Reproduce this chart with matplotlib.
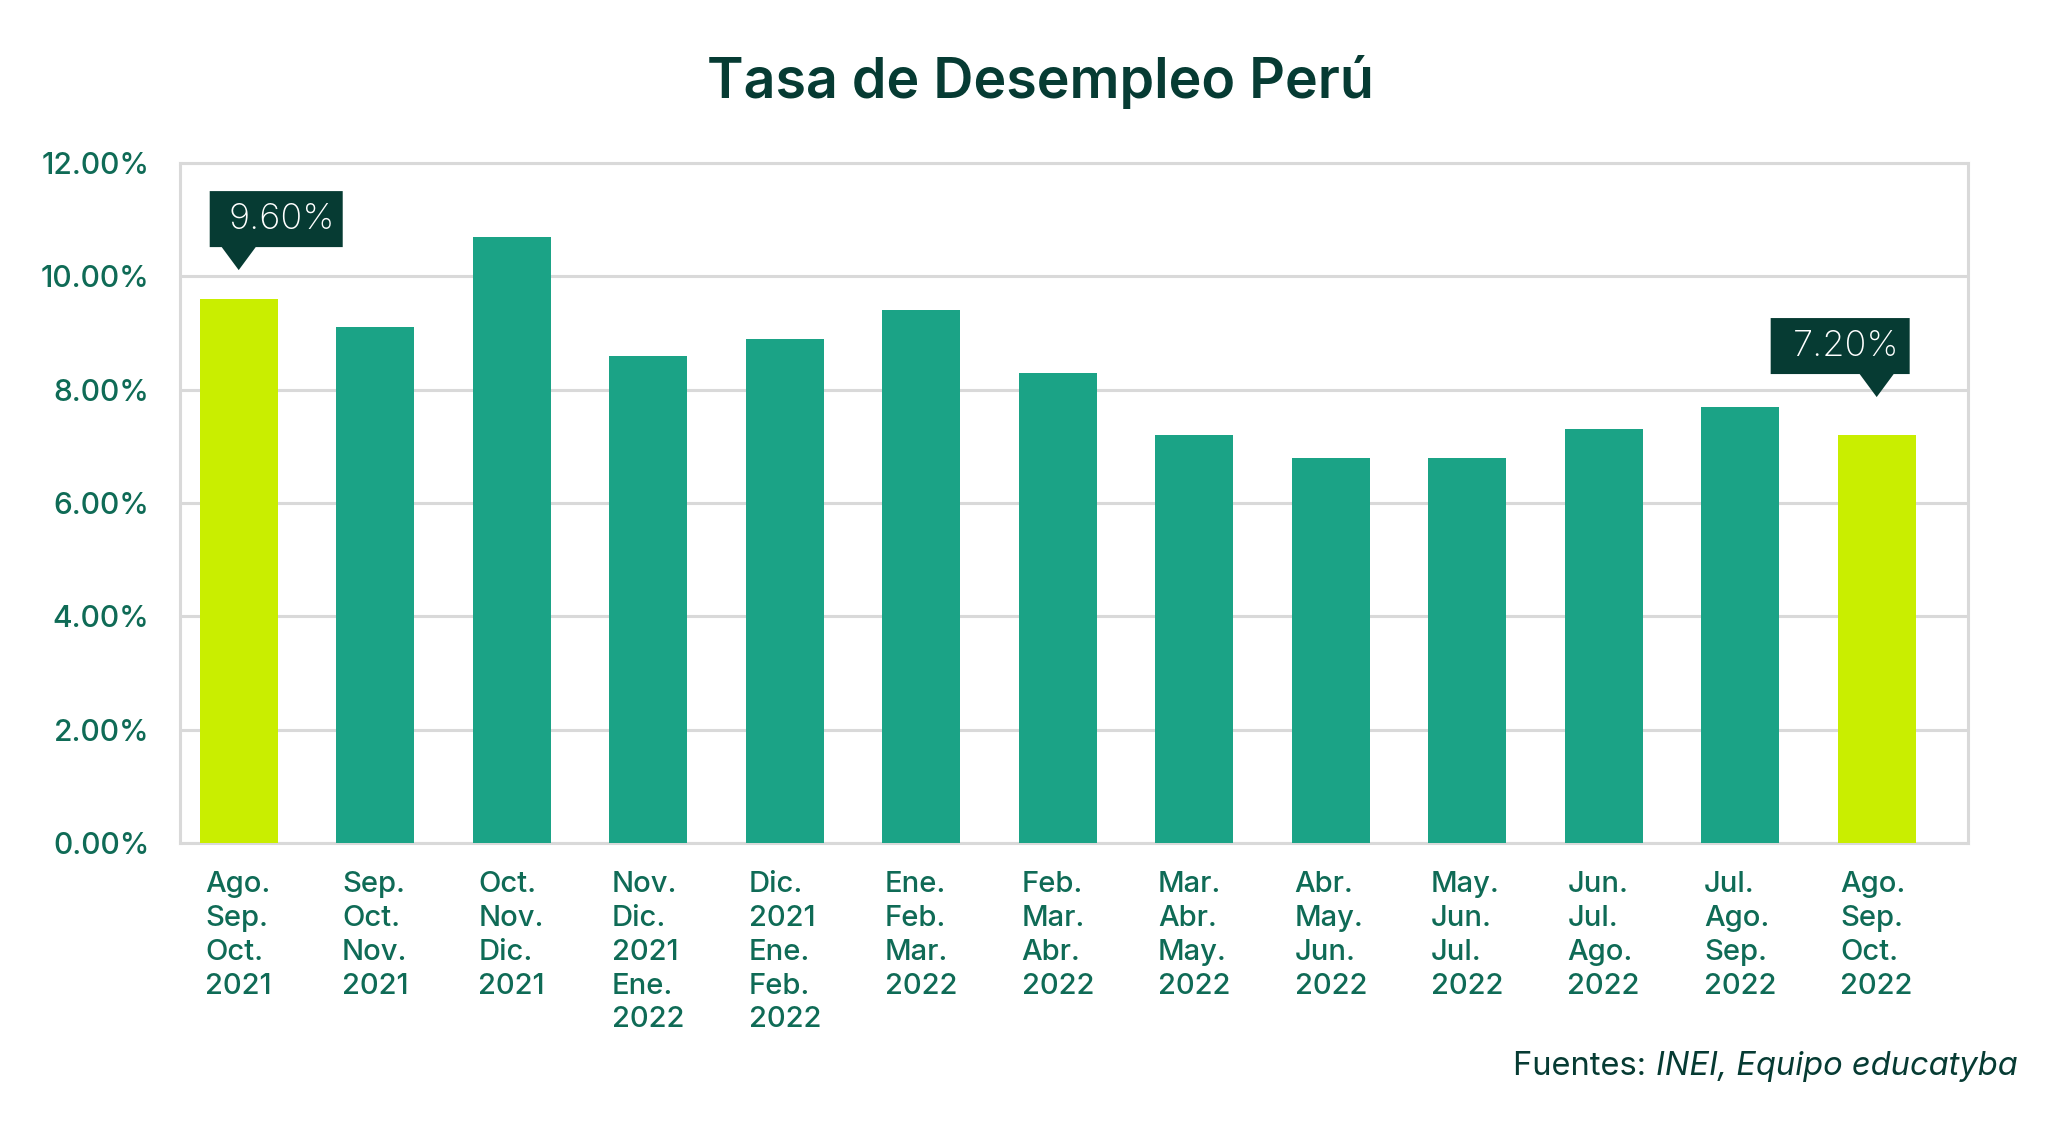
import numpy as np
import matplotlib
matplotlib.use('Agg')
import matplotlib.pyplot as plt
from matplotlib.patches import Polygon
from matplotlib.transforms import Affine2D, ScaledTranslation

plt.rcParams['font.family'] = ['Inter', 'DejaVu Sans']

# ======= Data
periods = ['Ago.\nSep.\nOct.\n2021', 'Sep.\nOct.\nNov.\n2021', 'Oct.\nNov.\nDic.\n2021',
           'Nov.\nDic.\n2021\nEne.\n2022', 'Dic.\n2021\nEne.\nFeb.\n2022',
           'Ene.\nFeb.\nMar.\n2022', 'Feb.\nMar.\nAbr.\n2022', 'Mar.\nAbr.\nMay.\n2022',
           'Abr.\nMay.\nJun.\n2022', 'May.\nJun.\nJul.\n2022', 'Jun.\nJul.\nAgo.\n2022',
           'Jul.\nAgo.\nSep.\n2022', 'Ago.\nSep.\nOct.\n2022']
rates = [9.6, 9.1, 10.7, 8.6, 8.9, 9.4, 8.3, 7.2, 6.8, 6.8, 7.3, 7.7, 7.2]
highlight = [0, 12]          # bars compared in the chart
yticks = [0, 2, 4, 6, 8, 10, 12]

TEAL = '#1BA386'
LIME = '#C9EE00'
DARK = '#063B33'
LABEL = '#0F6B56'
GRID = '#D9D9D9'

fig = plt.figure(figsize=(20.48, 11.25), dpi=100)
ax = fig.add_axes([0.0879, 0.2507, 0.961 - 0.0879, 0.855 - 0.2507])

x = np.arange(len(rates))
colors = [LIME if i in highlight else TEAL for i in x]
ax.bar(x, rates, width=0.57, color=colors, zorder=3)

ax.set_ylim(0, 12)
ax.set_xlim(-0.43, 12.67)
ax.set_yticks(yticks)
ax.set_yticklabels(['%.2f%%' % v for v in yticks], fontweight='medium')
ax.set_xticks(x)
ax.set_xticklabels(periods, ha='center', multialignment='left', linespacing=1.33,
                   fontweight='medium')

ax.grid(axis='y', color=GRID, linewidth=2.2, zorder=0)
for s in ax.spines.values():
    s.set_color(GRID)
    s.set_linewidth(2.2)

ax.tick_params(axis='y', length=0, pad=22, labelsize=21.5, labelcolor=LABEL)
ax.tick_params(axis='x', length=0, pad=20, labelsize=21, labelcolor=LABEL)

# ======= Callouts: box + pointer, sizes in pixels (dpi 100)
callouts = [(0, 29, -29, 104), (12, 38, -106, 33)]  # bar idx, gap above bar, box left/right from tip
for idx, gap, left, right in callouts:
    tr = Affine2D().translate(0, gap) + ScaledTranslation(x[idx], rates[idx], ax.transData)
    h_tri, h_box, half = 23, 56, 17
    verts = [(0, 0), (-half, h_tri), (left, h_tri), (left, h_tri + h_box),
             (right, h_tri + h_box), (right, h_tri), (half, h_tri)]
    ax.add_patch(Polygon(verts, closed=True, facecolor=DARK, edgecolor='none',
                         transform=tr, clip_on=False, zorder=5))
    ax.text((left + right) / 2 + 6, h_tri + h_box / 2, '%.2f%%' % rates[idx], transform=tr,
            ha='center', va='center', color='white', fontsize=26, fontweight='light', zorder=6)

# ======= Title and source
fig.text(0.508, 0.927, 'Tasa de Desempleo Perú', ha='center', va='center',
         fontsize=40, fontweight='semibold', color=DARK)
t1 = fig.text(0.985, 0.052, 'INEI, Equipo educatyba', ha='right', va='center',
              fontsize=23.5, style='italic', color=DARK)
fig.canvas.draw()
bb = t1.get_window_extent()
fig.text(bb.x0 / fig.bbox.width, 0.052, 'Fuentes: ', ha='right', va='center',
         fontsize=23.5, color=DARK)

fig.savefig('out.png', dpi=100, facecolor='white')
